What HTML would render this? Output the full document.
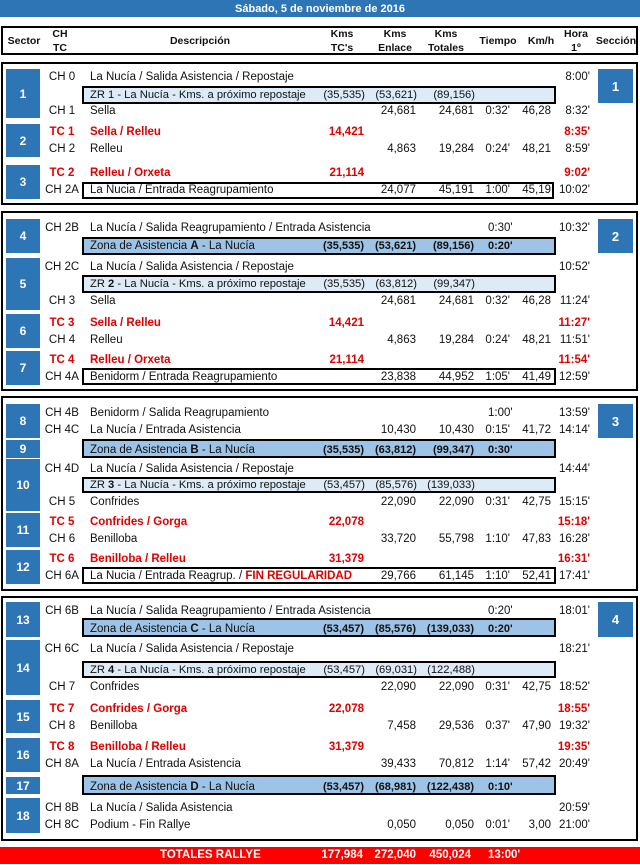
<!DOCTYPE html>
<html><head><meta charset="utf-8"><style>
*{margin:0;padding:0;box-sizing:border-box}
body{width:640px;height:865px;background:#fff;position:relative;overflow:hidden;font-family:"Liberation Sans",sans-serif;font-size:11.5px;color:#111}
.a{position:absolute}
.title{left:0;top:0;width:640px;height:17px;background:#2e75b6;color:#fff;font-weight:bold;text-align:center;line-height:18px;font-size:11px}
.hdr{left:1px;top:26px;width:637px;height:29px;border:2px solid #000}
.hd{position:absolute;font-weight:bold;font-size:10.5px;text-align:center;line-height:14px}
.grp{left:1px;width:637px;border:2px solid #000}
.sec{position:absolute;left:6px;width:34px;background:#2e75b6;color:#fff;font-weight:bold;font-size:12px;display:flex;align-items:center;justify-content:center}
.scn{position:absolute;left:598px;width:35px;background:#2e75b6;color:#fff;font-weight:bold;font-size:13px;display:flex;align-items:center;justify-content:center}
.bx{position:absolute;left:82px;width:474px;border:2px solid #000}
.zr{background:#ddebf7}
.zn{background:#9dc3e6}
.r{position:absolute;left:0;width:640px;height:14px;line-height:14px;white-space:nowrap}
.r span{position:absolute;top:0}
.ch{left:40px;width:44px;text-align:center}
.d{left:90px}
.z{font-size:11.2px}
.k1{right:276px}.k2{right:224px}.k3{right:166px}
.t{left:488px}.v{right:89px}.h{right:50px}
.red{color:#e00000;font-weight:bold}
.b{font-weight:bold;font-size:11px}
.tot{left:0;top:847px;width:640px;height:17px;background:#ff0000;color:#fff;font-weight:bold;font-size:11.5px}
.tot span{position:absolute;top:0;line-height:17px}
</style></head><body>
<div class="a title">Sábado, 5 de noviembre de 2016</div>
<div class="a hdr"></div>
<div class="hd" style="left:4px;top:34px;width:40px">Sector</div>
<div class="hd" style="left:45px;top:27px;width:30px">CH<br>TC</div>
<div class="hd" style="left:150px;top:34px;width:100px">Descripción</div>
<div class="hd" style="left:322px;top:27px;width:40px">Kms<br>TC's</div>
<div class="hd" style="left:375px;top:27px;width:40px">Kms<br>Enlace</div>
<div class="hd" style="left:426px;top:27px;width:40px">Kms<br>Totales</div>
<div class="hd" style="left:478px;top:34px;width:40px">Tiempo</div>
<div class="hd" style="left:525px;top:34px;width:32px">Km/h</div>
<div class="hd" style="left:560px;top:27px;width:32px">Hora<br>1º</div>
<div class="hd" style="left:595px;top:34px;width:42px">Sección</div>

<!-- group 1 -->
<div class="a grp" style="top:62px;height:143px"></div>
<div class="sec" style="top:69px;height:49px">1</div>
<div class="sec" style="top:124px;height:33px">2</div>
<div class="sec" style="top:165px;height:34px">3</div>
<div class="scn" style="top:69px;height:34px">1</div>
<div class="bx zr" style="top:86px;height:18px"></div>
<div class="bx" style="top:182px;height:17px;background:#fff;width:472px"></div>
<div class="r" style="top:70px"><span class="ch">CH 0</span><span class="d">La Nucía / Salida Asistencia / Repostaje</span><span class="h">8:00'</span></div>
<div class="r z" style="top:88px"><span class="d">ZR 1 - La Nucía - Kms. a próximo repostaje</span><span style="right:275px">(35,535)</span><span style="right:223px">(53,621)</span><span style="right:165px">(89,156)</span></div>
<div class="r" style="top:104px"><span class="ch">CH 1</span><span class="d">Sella</span><span class="k2">24,681</span><span class="k3">24,681</span><span style="right:130px">0:32'</span><span class="v">46,28</span><span class="h">8:32'</span></div>
<div class="r red" style="top:125px"><span class="ch">TC 1</span><span class="d">Sella / Relleu</span><span class="k1">14,421</span><span class="h">8:35'</span></div>
<div class="r" style="top:142px"><span class="ch">CH 2</span><span class="d">Relleu</span><span class="k2">4,863</span><span class="k3">19,284</span><span style="right:130px">0:24'</span><span class="v">48,21</span><span class="h">8:59'</span></div>
<div class="r red" style="top:166px"><span class="ch">TC 2</span><span class="d">Relleu / Orxeta</span><span class="k1">21,114</span><span class="h">9:02'</span></div>
<div class="r" style="top:183px"><span class="ch">CH 2A</span><span class="d">La Nucia / Entrada Reagrupamiento</span><span class="k2">24,077</span><span class="k3">45,191</span><span style="right:130px">1:00'</span><span class="v">45,19</span><span class="h">10:02'</span></div>

<!-- group 2 -->
<div class="a grp" style="top:211px;height:180px"></div>
<div class="sec" style="top:219px;height:34px">4</div>
<div class="sec" style="top:258px;height:52px">5</div>
<div class="sec" style="top:314px;height:34px">6</div>
<div class="sec" style="top:351px;height:34px">7</div>
<div class="scn" style="top:219px;height:34px">2</div>
<div class="bx zn" style="top:237px;height:18px"></div>
<div class="bx zr" style="top:275px;height:18px"></div>
<div class="bx" style="top:368px;height:17px"></div>
<div class="r" style="top:221px"><span class="ch">CH 2B</span><span class="d">La Nucía / Salida Reagrupamiento / Entrada Asistencia</span><span class="t">0:30'</span><span class="h">10:32'</span></div>
<div class="r" style="top:239px"><span class="d">Zona de Asistencia <b>A</b> - La Nucía</span><span class="k1 b">(35,535)</span><span class="k2 b">(53,621)</span><span class="k3 b">(89,156)</span><span class="t b">0:20'</span></div>
<div class="r" style="top:260px"><span class="ch">CH 2C</span><span class="d">La Nucía / Salida Asistencia / Repostaje</span><span class="h">10:52'</span></div>
<div class="r z" style="top:277px"><span class="d">ZR <b>2</b> - La Nucía - Kms. a próximo repostaje</span><span style="right:275px">(35,535)</span><span style="right:223px">(63,812)</span><span style="right:165px">(99,347)</span></div>
<div class="r" style="top:294px"><span class="ch">CH 3</span><span class="d">Sella</span><span class="k2">24,681</span><span class="k3">24,681</span><span style="right:130px">0:32'</span><span class="v">46,28</span><span class="h">11:24'</span></div>
<div class="r red" style="top:316px"><span class="ch">TC 3</span><span class="d">Sella / Relleu</span><span class="k1">14,421</span><span class="h">11:27'</span></div>
<div class="r" style="top:333px"><span class="ch">CH 4</span><span class="d">Relleu</span><span class="k2">4,863</span><span class="k3">19,284</span><span style="right:130px">0:24'</span><span class="v">48,21</span><span class="h">11:51'</span></div>
<div class="r red" style="top:353px"><span class="ch">TC 4</span><span class="d">Relleu / Orxeta</span><span class="k1">21,114</span><span class="h">11:54'</span></div>
<div class="r" style="top:370px"><span class="ch">CH 4A</span><span class="d">Benidorm / Entrada Reagrupamiento</span><span class="k2">23,838</span><span class="k3">44,952</span><span style="right:130px">1:05'</span><span class="v">41,49</span><span class="h">12:59'</span></div>

<!-- group 3 -->
<div class="a grp" style="top:396px;height:195px"></div>
<div class="sec" style="top:404px;height:34px">8</div>
<div class="sec" style="top:440px;height:18px">9</div>
<div class="sec" style="top:459px;height:52px">10</div>
<div class="sec" style="top:513px;height:34px">11</div>
<div class="sec" style="top:550px;height:34px">12</div>
<div class="scn" style="top:404px;height:34px">3</div>
<div class="bx zn" style="top:439px;height:19px"></div>
<div class="bx zr" style="top:477px;height:16px"></div>
<div class="bx" style="top:567px;height:17px"></div>
<div class="r" style="top:406px"><span class="ch">CH 4B</span><span class="d">Benidorm / Salida Reagrupamiento</span><span class="t">1:00'</span><span class="h">13:59'</span></div>
<div class="r" style="top:423px"><span class="ch">CH 4C</span><span class="d">La Nucía / Entrada Asistencia</span><span class="k2">10,430</span><span class="k3">10,430</span><span style="right:130px">0:15'</span><span class="v">41,72</span><span class="h">14:14'</span></div>
<div class="r" style="top:443px"><span class="d">Zona de Asistencia <b>B</b> - La Nucía</span><span class="k1 b">(35,535)</span><span class="k2 b">(63,812)</span><span class="k3 b">(99,347)</span><span class="t b">0:30'</span></div>
<div class="r" style="top:462px"><span class="ch">CH 4D</span><span class="d">La Nucía / Salida Asistencia / Repostaje</span><span class="h">14:44'</span></div>
<div class="r z" style="top:478px"><span class="d">ZR <b>3</b> - La Nucía - Kms. a próximo repostaje</span><span style="right:275px">(53,457)</span><span style="right:223px">(85,576)</span><span style="right:165px">(139,033)</span></div>
<div class="r" style="top:495px"><span class="ch">CH 5</span><span class="d">Confrides</span><span class="k2">22,090</span><span class="k3">22,090</span><span style="right:130px">0:31'</span><span class="v">42,75</span><span class="h">15:15'</span></div>
<div class="r red" style="top:515px"><span class="ch">TC 5</span><span class="d">Confrides / Gorga</span><span class="k1">22,078</span><span class="h">15:18'</span></div>
<div class="r" style="top:532px"><span class="ch">CH 6</span><span class="d">Benilloba</span><span class="k2">33,720</span><span class="k3">55,798</span><span style="right:130px">1:10'</span><span class="v">47,83</span><span class="h">16:28'</span></div>
<div class="r red" style="top:552px"><span class="ch">TC 6</span><span class="d">Benilloba / Relleu</span><span class="k1">31,379</span><span class="h">16:31'</span></div>
<div class="r" style="top:569px"><span class="ch">CH 6A</span><span class="d">La Nucia / Entrada Reagrup. / <span class="red" style="position:static">FIN REGULARIDAD</span></span><span class="k2">29,766</span><span class="k3">61,145</span><span style="right:130px">1:10'</span><span class="v">52,41</span><span class="h">17:41'</span></div>

<!-- group 4 -->
<div class="a grp" style="top:596px;height:245px"></div>
<div class="sec" style="top:602px;height:35px">13</div>
<div class="sec" style="top:640px;height:55px">14</div>
<div class="sec" style="top:700px;height:33px">15</div>
<div class="sec" style="top:738px;height:34px">16</div>
<div class="sec" style="top:777px;height:17px">17</div>
<div class="sec" style="top:798px;height:35px">18</div>
<div class="scn" style="top:602px;height:35px">4</div>
<div class="bx zn" style="top:618px;height:19px"></div>
<div class="bx zr" style="top:661px;height:17px"></div>
<div class="bx zn" style="top:775px;height:20px"></div>
<div class="r" style="top:604px"><span class="ch">CH 6B</span><span class="d">La Nucía / Salida Reagrupamiento / Entrada Asistencia</span><span class="t">0:20'</span><span class="h">18:01'</span></div>
<div class="r" style="top:622px"><span class="d">Zona de Asistencia <b>C</b> - La Nucía</span><span class="k1 b">(53,457)</span><span class="k2 b">(85,576)</span><span class="k3 b">(139,033)</span><span class="t b">0:20'</span></div>
<div class="r" style="top:642px"><span class="ch">CH 6C</span><span class="d">La Nucía / Salida Asistencia / Repostaje</span><span class="h">18:21'</span></div>
<div class="r z" style="top:663px"><span class="d">ZR <b>4</b> - La Nucía - Kms. a próximo repostaje</span><span style="right:275px">(53,457)</span><span style="right:223px">(69,031)</span><span style="right:165px">(122,488)</span></div>
<div class="r" style="top:680px"><span class="ch">CH 7</span><span class="d">Confrides</span><span class="k2">22,090</span><span class="k3">22,090</span><span style="right:130px">0:31'</span><span class="v">42,75</span><span class="h">18:52'</span></div>
<div class="r red" style="top:702px"><span class="ch">TC 7</span><span class="d">Confrides / Gorga</span><span class="k1">22,078</span><span class="h">18:55'</span></div>
<div class="r" style="top:719px"><span class="ch">CH 8</span><span class="d">Benilloba</span><span class="k2">7,458</span><span class="k3">29,536</span><span style="right:130px">0:37'</span><span class="v">47,90</span><span class="h">19:32'</span></div>
<div class="r red" style="top:740px"><span class="ch">TC 8</span><span class="d">Benilloba / Relleu</span><span class="k1">31,379</span><span class="h">19:35'</span></div>
<div class="r" style="top:757px"><span class="ch">CH 8A</span><span class="d">La Nucía / Entrada Asistencia</span><span class="k2">39,433</span><span class="k3">70,812</span><span style="right:130px">1:14'</span><span class="v">57,42</span><span class="h">20:49'</span></div>
<div class="r" style="top:780px"><span class="d">Zona de Asistencia <b>D</b> - La Nucía</span><span class="k1 b">(53,457)</span><span class="k2 b">(68,981)</span><span class="k3 b">(122,438)</span><span class="t b">0:10'</span></div>
<div class="r" style="top:801px"><span class="ch">CH 8B</span><span class="d">La Nucía / Salida Asistencia</span><span class="h">20:59'</span></div>
<div class="r" style="top:818px"><span class="ch">CH 8C</span><span class="d">Podium - Fin Rallye</span><span class="k2">0,050</span><span class="k3">0,050</span><span style="right:130px">0:01'</span><span class="v">3,00</span><span class="h">21:00'</span></div>

<div class="a tot"><span style="left:160px">TOTALES RALLYE</span><span style="right:277px">177,984</span><span style="right:224px">272,040</span><span style="right:169px">450,024</span><span style="left:488px">13:00'</span></div>
</body></html>
